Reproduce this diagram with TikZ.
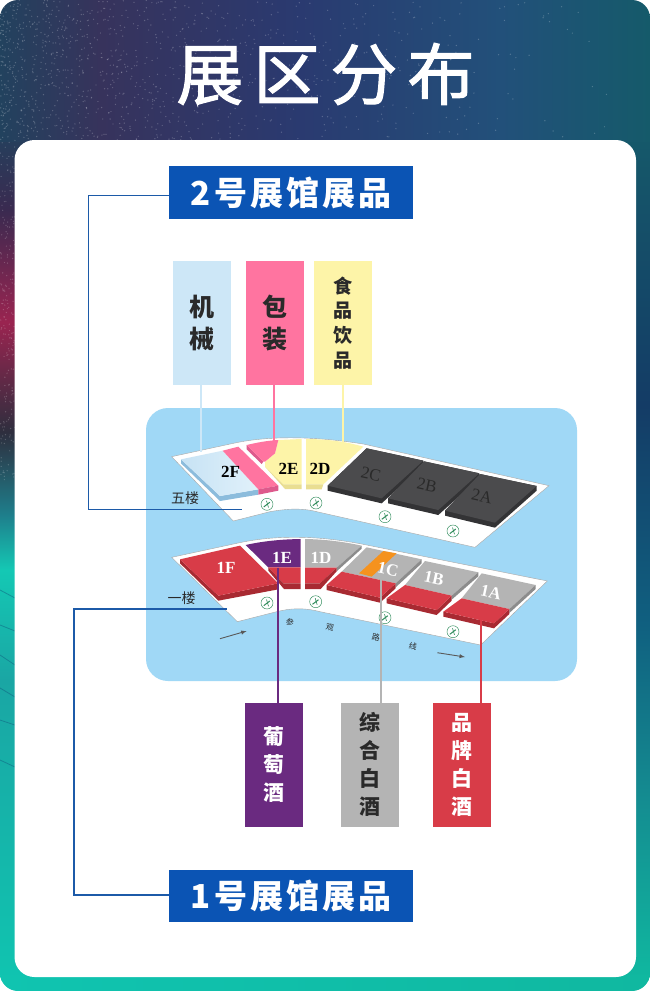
\documentclass[tikz,border=0pt]{standalone}
\usepackage{fontspec}
\setmainfont{Liberation Serif}
\newfontfamily\cjk{Noto Sans CJK SC}
\newfontfamily\titlecjk[FakeBold=1.6]{Noto Sans CJK SC}
\usetikzlibrary{calc}
\definecolor{panelblue}{HTML}{A0D8F6}
\definecolor{linkblue}{HTML}{1C5AA8}
\definecolor{banblue}{HTML}{0B54B4}
\definecolor{redtop}{HTML}{D83C48}
\definecolor{redside}{HTML}{A82A32}
\definecolor{graytop}{HTML}{B4B4B4}
\definecolor{grayside}{HTML}{8C8C8C}
\definecolor{darktop}{HTML}{4B4B4D}
\definecolor{darkside}{HTML}{333335}
\definecolor{bluetop}{HTML}{CDE7F7}
\definecolor{blueside}{HTML}{8CBCDC}
\definecolor{pinktop}{HTML}{FF74A0}
\definecolor{pinkside}{HTML}{DD5A8C}
\definecolor{yeltop}{HTML}{FDF4A8}
\definecolor{yelside}{HTML}{E9DE92}
\definecolor{purptop}{HTML}{6A2A80}
\definecolor{oranget}{HTML}{F5921E}
\definecolor{ink}{HTML}{2A2A2A}
\definecolor{wcgreen}{HTML}{2E8B5A}
% background colours
\definecolor{bgA}{HTML}{22425E}
\definecolor{bgB}{HTML}{37335C}
\definecolor{bgC}{HTML}{2A3A70}
\definecolor{bgD}{HTML}{22507A}
\definecolor{bgE}{HTML}{155A6A}
\definecolor{bgF}{HTML}{3A2A50}
\definecolor{bgG}{HTML}{9A2450}
\definecolor{bgH}{HTML}{2E2E3E}
\definecolor{bgI}{HTML}{1E7F8C}
\definecolor{bgJ}{HTML}{14C8B4}
\definecolor{bgK}{HTML}{1AA6A4}
\definecolor{bgL}{HTML}{10C4B0}
\definecolor{bgM}{HTML}{143C66}
\definecolor{bgN}{HTML}{106080}
\definecolor{bgO}{HTML}{148A90}
\definecolor{bgP}{HTML}{10B8A0}
\tikzset{
  banner/.style={fill=banblue,text=white,minimum width=244pt,minimum height=52.5pt,inner sep=0pt,font=\cjk\bfseries\fontsize{33}{33}\selectfont},
  tagbox/.style={minimum width=58pt,minimum height=124pt,inner sep=0pt,align=center},
  link/.style={line width=1.3pt,linkblue},
  tie/.style={line width=1.8pt},
  zone/.style={font=\fontsize{17}{17}\selectfont\bfseries,inner sep=0pt},
  floorlab/.style={font=\cjk\fontsize{14}{14}\selectfont,text=ink,inner sep=0pt},
  route/.style={font=\cjk\fontsize{8}{8}\selectfont,text=ink,inner sep=0pt},
  plat/.style={fill=white,draw=black!35,line width=.4pt},
}
\newcommand{\seg}[6]{\shade[top color=#5,bottom color=#6] (#1,#3) rectangle (#2,#4);}
\newcommand{\hseg}[6]{\shade[left color=#5,right color=#6] (#1,#3) rectangle (#2,#4);}
\newcommand{\wcmark}[2]{%
  \draw[fill=white,draw=wcgreen,line width=.45pt] (#1,#2) circle (6pt);
  \draw[wcgreen,line width=1pt] (#1-3.2,#2+2.6) -- (#1+2.8,#2-2);
  \draw[wcgreen,line width=.6pt] (#1-.5,#2-3.5) -- (#1+1.5,#2+3.2);}
\begin{document}
\begin{tikzpicture}[x=1pt,y=-1pt]
\useasboundingbox (0,0) rectangle (650,991);
\fill[white] (0,0) rectangle (650,991);
\begin{scope}
\clip[rounded corners=18pt] (0,0) rectangle (650,991);
% left strip
\seg{0}{326}{125}{210}{bgA}{bgF}
\seg{0}{326}{210}{322}{bgF}{bgG}
\seg{0}{326}{322}{432}{bgG}{bgH}
\seg{0}{326}{432}{515}{bgH}{bgI}
\seg{0}{326}{515}{570}{bgI}{bgJ}
\seg{0}{326}{570}{680}{bgJ}{bgK}
\seg{0}{326}{680}{980}{bgK}{bgL}
% right strip
\seg{325}{650}{125}{405}{bgE}{bgM}
\seg{325}{650}{405}{625}{bgM}{bgN}
\seg{325}{650}{625}{790}{bgN}{bgO}
\seg{325}{650}{790}{980}{bgO}{bgP}
% bottom band
\hseg{0}{650}{975}{991}{bgL}{bgP}
% top band
\hseg{0}{100}{0}{141}{bgA}{bgB}
\hseg{100}{300}{0}{141}{bgB}{bgC}
\hseg{300}{500}{0}{141}{bgC}{bgD}
\hseg{500}{650}{0}{141}{bgD}{bgE}
% speckle
\pgfmathsetseed{11}
\foreach \i in {1,...,1100}{
  \pgfmathsetmacro{\px}{rnd*rnd*620}
  \pgfmathsetmacro{\py}{rnd*140}
  \fill[white,opacity=.22] (\px,\py) circle (.7pt);
}
\foreach \i in {1,...,200}{
  \pgfmathsetmacro{\py}{140+rnd*340}
  \pgfmathsetmacro{\px}{rnd*15}
  \fill[white,opacity=.2] (\px,\py) circle (.7pt);
}
% streaks in the teal part
\foreach \a/\b in {590/8,625/6,655/10,688/9,720/5,760/7}{
  \draw[bgN,opacity=.5,line width=.8pt] (0,\a) -- (15,\a+\b);
}
\end{scope}
% white card
\fill[white,rounded corners=20pt] (14.5,140) rectangle (636,977);
% title
\node[inner sep=0pt,text=white,font=\titlecjk\fontsize{67}{67}\selectfont] (title) at (325.5,74) {展\kern10pt区\kern10pt分\kern10pt布};
% blue panel
\fill[panelblue,rounded corners=22pt] (146,408) rectangle (577,681);

% ---------- fifth floor
\begin{scope}[shift={(150,420)},x=.33333pt,y=-.33333pt]
\draw[plat] (65,110) -- (250,70) .. controls (340,50) and (470,45) .. (640,72) -- (1197,197) -- (975,382) -- (500,275) .. controls (450,262) and (400,268) .. (360,275) -- (250,303) -- cycle;
% 2F
\fill[blueside] (93,118) -- (210,228) -- (325,208) -- (325,224) -- (210,243) -- (93,130) -- cycle;
\shade[left color=bluetop!90!blueside,right color=bluetop!60!white] (93,118) -- (218,92) -- (325,208) -- (210,228) -- cycle;
\fill[pinktop] (218,92) -- (265,80) -- (385,197) -- (325,208) -- cycle;
\fill[pinkside] (325,208) -- (385,197) -- (385,212) -- (325,224) -- cycle;
% 2E
\fill[pinkside] (290,75) -- (340,125) -- (335,132) -- (290,88) -- cycle;
\fill[yeltop] (385,60) -- (455,57) -- (455,193) -- (400,193) -- (345,140) -- (345,126) -- (375,100) -- cycle;
\fill[pinktop] (290,75) .. controls (320,68) and (350,62) .. (385,60) -- (375,100) -- (345,125) -- (340,125) -- cycle;
\fill[yelside] (345,140) -- (400,193) -- (455,193) -- (455,207) -- (405,207) -- cycle;
% 2D
\fill[yeltop] (468,57) .. controls (530,57) and (590,65) .. (640,80) -- (520,193) -- (468,193) -- cycle;
\fill[yelside] (468,193) -- (520,193) -- (515,208) -- (468,208) -- cycle;
% 2C 2B 2A
\fill[darkside] (533,197) -- (650,85) -- (820,122) -- (820,135) -- (695,250) -- (533,212) -- cycle;
\fill[darktop] (650,85) -- (820,122) -- (695,235) -- (533,197) -- cycle;
\fill[darkside] (714,235) -- (822,124) -- (988,160) -- (988,174) -- (865,285) -- (714,250) -- cycle;
\fill[darktop] (822,124) -- (988,160) -- (865,270) -- (714,235) -- cycle;
\fill[darkside] (885,272) -- (990,162) -- (1160,198) -- (1160,212) -- (1035,323) -- (885,287) -- cycle;
\fill[darktop] (990,162) -- (1160,198) -- (1035,308) -- (885,272) -- cycle;
\end{scope}
\node[zone,text=black] (z2f) at (230.5,472) {2F};
\node[zone,text=black] (z2e) at (288.5,469) {2E};
\node[zone,text=black] (z2d) at (320,469) {2D};
\node[zone,text=ink,rotate=-12,font=\fontsize{17}{17}\selectfont] (z2c) at (371,474) {2C};
\node[zone,text=ink,rotate=-12,font=\fontsize{17}{17}\selectfont] (z2b) at (427,485) {2B};
\node[zone,text=ink,rotate=-12,font=\fontsize{17}{17}\selectfont] (z2a) at (482,496) {2A};
\node[floorlab] (f5) at (185,498) {五楼};
\wcmark{267}{504.3}
\wcmark{316}{503}
\wcmark{385}{516.7}
\wcmark{453}{531}

% ---------- first floor
\begin{scope}[shift={(150,530)},x=.33333pt,y=-.33333pt]
\draw[plat] (65,82) -- (260,40) .. controls (340,22) and (470,8) .. (650,45) -- (1192,153) -- (992,345) -- (510,245) .. controls (460,232) and (420,235) .. (380,245) -- (262,275) -- cycle;
% 1F
\fill[redside] (90,88) -- (205,197) -- (385,160) -- (385,178) -- (205,212) -- (90,100) -- cycle;
\fill[redtop] (90,88) -- (270,47) -- (385,160) -- (205,197) -- cycle;
% 1E
\fill[purptop] (287,45) .. controls (340,33) and (395,28) .. (452,27) -- (452,112) -- (355,112) -- cycle;
\fill[redtop] (355,112) -- (452,112) -- (452,160) -- (400,160) -- cycle;
\fill[redside] (355,112) -- (400,160) -- (452,160) -- (452,177) -- (402,177) -- (355,122) -- cycle;
% 1D
\fill[graytop] (465,27) .. controls (525,28) and (580,35) .. (635,47) -- (560,113) -- (465,113) -- cycle;
\fill[grayside] (635,47) -- (635,56) -- (560,124) -- (560,113) -- cycle;
\fill[redtop] (465,113) -- (560,113) -- (510,160) -- (465,160) -- cycle;
\fill[redside] (465,160) -- (510,160) -- (560,113) -- (560,124) -- (512,177) -- (465,177) -- cycle;
% 1C
\fill[graytop] (650,52) -- (815,88) -- (737,160) -- (575,125) -- cycle;
\fill[grayside] (815,88) -- (815,100) -- (737,172) -- (737,160) -- cycle;
\fill[oranget] (700,63) -- (740,70) -- (665,140) -- (627,130) -- cycle;
\fill[redside] (530,165) -- (690,203) -- (737,160) -- (737,175) -- (690,218) -- (530,180) -- cycle;
\fill[redtop] (575,125) -- (737,160) -- (690,203) -- (530,165) -- cycle;
% 1B
\fill[graytop] (825,93) -- (985,127) -- (905,197) -- (765,165) -- cycle;
\fill[grayside] (985,127) -- (985,139) -- (905,209) -- (905,197) -- cycle;
\fill[redside] (710,205) -- (860,240) -- (905,197) -- (905,212) -- (860,255) -- (710,220) -- cycle;
\fill[redtop] (765,165) -- (905,197) -- (860,240) -- (710,205) -- cycle;
% 1A
\fill[graytop] (995,130) -- (1157,165) -- (1078,237) -- (935,205) -- cycle;
\fill[grayside] (1157,165) -- (1157,177) -- (1078,249) -- (1078,237) -- cycle;
\fill[redside] (880,245) -- (1032,280) -- (1078,237) -- (1078,252) -- (1032,295) -- (880,260) -- cycle;
\fill[redtop] (935,205) -- (1078,237) -- (1032,280) -- (880,245) -- cycle;
\end{scope}
\node[zone,text=white] (z1f) at (226,568) {1F};
\node[zone,text=white] (z1e) at (282,558) {1E};
\node[zone,text=white] (z1d) at (321,558) {1D};
\node[zone,text=white,rotate=-12] (z1c) at (388,569) {1C};
\node[zone,text=white,rotate=-12] (z1b) at (434,578) {1B};
\node[zone,text=white,rotate=-12] (z1a) at (491,592) {1A};
\node[floorlab] (f1) at (181.7,598) {一楼};
\wcmark{267}{603}
\wcmark{315.7}{601.7}
\wcmark{385}{617.7}
\wcmark{453}{631.7}
% route
\node[route,rotate=-12] (r1) at (290,622) {参};
\node[route,rotate=-12] (r2) at (330,628) {观};
\node[route,rotate=-12] (r3) at (376,637) {路};
\node[route,rotate=-12] (r4) at (413,646) {线};
\coordinate (ra1) at (220,638.7);
\coordinate (ra2) at (246.7,631);
\coordinate (rb1) at (437.3,652.7);
\coordinate (rb2) at (465,657);
\draw[-latex,black!65,line width=.9pt] (ra1) -- (ra2);
\draw[-latex,black!65,line width=.9pt] (rb1) -- (rb2);

% ---------- tags
\node[tagbox,fill=bluetop,text=ink,font=\cjk\bfseries\fontsize{25}{31.5}\selectfont] (tjx) at (201.7,322.8) {机\\械};
\node[tagbox,fill=pinktop,text=ink,font=\cjk\bfseries\fontsize{25}{31.5}\selectfont] (tbz) at (274.9,322.8) {包\\装};
\node[tagbox,fill=yeltop,text=ink,font=\cjk\bfseries\fontsize{19}{24.7}\selectfont] (tsp) at (343.3,322.8) {食\\品\\饮\\品};
\node[tagbox,fill=purptop,text=white,font=\cjk\bfseries\fontsize{21}{28}\selectfont] (tpt) at (273.5,764.7) {葡\\萄\\酒};
\node[tagbox,fill=graytop,text=ink,font=\cjk\bfseries\fontsize{21}{28}\selectfont] (tzh) at (370,764.7) {综\\合\\白\\酒};
\node[tagbox,fill=redtop,text=white,font=\cjk\bfseries\fontsize{21}{28}\selectfont] (tpp) at (462.4,765) {品\\牌\\白\\酒};
% ties
\coordinate (cjx) at (201,452);
\coordinate (cbz) at (274,441);
\coordinate (csp) at (342.7,441.7);
\coordinate (cpt) at (277.7,567.7);
\coordinate (czh) at (380.7,579);
\coordinate (cpp) at (480.7,619);
\draw[tie,bluetop] (tjx.south -| cjx) -- (cjx);
\draw[tie,pinktop] (tbz.south -| cbz) -- (cbz);
\draw[tie,yeltop] (tsp.south -| csp) -- (csp);
\draw[tie,purptop] (cpt) -- (cpt |- tpt.north);
\draw[tie,graytop] (czh) -- (czh |- tzh.north);
\draw[tie,redtop] (cpp) -- (cpp |- tpp.north);

% ---------- banners
\node[banner] (ban2) at (291,192.5) {2\kern3pt号\kern3pt展\kern3pt馆\kern3pt展\kern3pt品};
\node[banner] (ban1) at (291,896) {1\kern3pt号\kern3pt展\kern3pt馆\kern3pt展\kern3pt品};
\coordinate (k5) at (88.4,509.3);
\coordinate (e5) at (241.7,509.3);
\coordinate (k1) at (74,609);
\coordinate (e1) at (227,609);
\draw[link] ([yshift=-3.2pt]ban2.west) -| (k5) -- (e5);
\draw[link] ([yshift=1pt]ban1.west) -| (k1) -- (e1);
\end{tikzpicture}
\end{document}
